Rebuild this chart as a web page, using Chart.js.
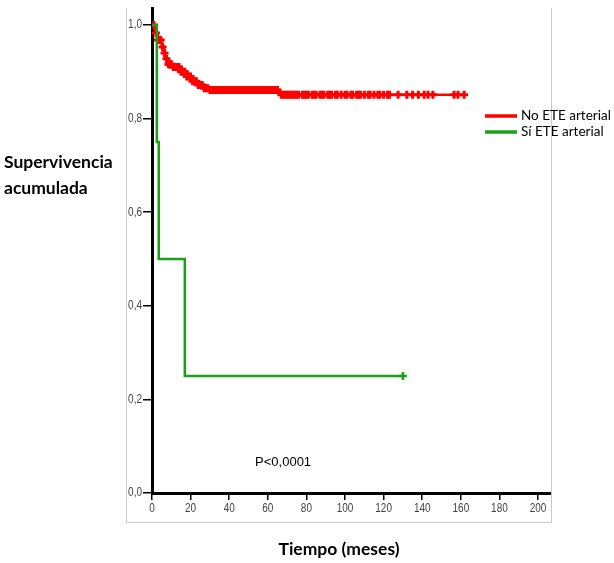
<!DOCTYPE html>
<html>
<head>
<meta charset="utf-8">
<script src="https://cdn.jsdelivr.net/npm/chart.js@4"></script>
<style>
  html, body { margin: 0; padding: 0; background: #fff; }
  #wrap { width: 614px; height: 563px; }
</style>
</head>
<body>
<div id="wrap"><canvas id="km" width="614" height="563"></canvas></div>
<script>
// Kaplan-Meier steps (time in months, cumulative survival)
const noEteTimes = [0, 1.5, 3, 5, 6, 7, 8, 11, 15, 18, 21, 24, 27, 30, 66, 161.7];
const noEteSurv = [1, 0.983, 0.968, 0.953, 0.94, 0.928, 0.916, 0.91, 0.9, 0.89, 0.88, 0.872, 0.865, 0.861, 0.851, 0.851];
const noEteCensored = [1, 2, 3, 4, 4.5, 5.5, 6.5, 7.5, 8.5, 9, 9.5, 10, 11, 12, 13, 14, 15, 16, 17, 18, 19, 20, 21,
  22, 23, 24, 25, 26, 27, 28, 29, 30, 31, 32, 33, 34, 35, 36,
  37, 38, 39, 40, 41, 42, 43, 44, 45, 46, 47, 48, 49, 50, 51, 52, 53, 54, 55, 56, 57, 58, 59, 60, 61, 62, 63, 64,
  65, 67, 68, 69, 70, 71, 72, 73, 74, 75, 76, 78, 79, 80, 81, 83, 84, 85, 87, 88, 89, 91, 92, 93, 95, 96, 98,
  100, 101, 103, 104, 106, 107, 108, 110, 112, 113, 115, 117, 118, 120, 122, 123, 127.5, 132, 135, 138, 141,
  143, 145.5, 156.5, 158.5, 161.7];

const siEteTimes = [0, 2.5, 3.5, 17, 130];
const siEteSurv = [1, 0.75, 0.5, 0.25, 0.25];
const siEteCensored = [130];

const xTicks = [0, 20, 40, 60, 80, 100, 120, 140, 160, 180, 200];
const yTicks = [0, 0.2, 0.4, 0.6, 0.8, 1.0];

const RED = '#ff0000';
const GREEN = '#1aa01a';

function stepPoints(times, surv) {
  return times.map((t, i) => ({ x: t, y: surv[i] }));
}
function survivalAt(times, surv, t) {
  let s = surv[0];
  for (let i = 0; i < times.length; i++) {
    if (times[i] <= t) s = surv[i];
  }
  return s;
}
function censorPoints(times, surv, cens) {
  return cens.map(t => ({ x: t, y: survivalAt(times, surv, t) }));
}

// narrow (Arial Narrow look) text: squeeze horizontally around the anchor
function narrowText(ctx, txt, x, y, align) {
  ctx.save();
  ctx.translate(x, y);
  ctx.scale(0.8, 1);
  ctx.textAlign = align;
  ctx.fillText(txt, 0, 0);
  ctx.restore();
}

const decor = {
  id: 'decor',
  afterDraw(chart) {
    const ctx = chart.ctx;
    const a = chart.chartArea;
    const xs = chart.scales.x, ys = chart.scales.y;
    ctx.save();
    // light frame
    ctx.strokeStyle = '#c8c8c8';
    ctx.lineWidth = 1;
    ctx.beginPath();
    ctx.moveTo(a.left - 25.5, a.top);
    ctx.lineTo(a.left - 25.5, a.bottom + 29.5);
    ctx.lineTo(a.right + 0.5, a.bottom + 29.5);
    ctx.lineTo(a.right + 0.5, a.top);
    ctx.stroke();

    // tick labels
    ctx.fillStyle = '#444';
    ctx.font = '12.5px "Liberation Sans"';
    ctx.textBaseline = 'middle';
    xs.ticks.forEach(t => narrowText(ctx, String(t.value), xs.getPixelForValue(t.value), a.bottom + 16, 'center'));
    ys.ticks.forEach(t => narrowText(ctx, t.value.toFixed(1).replace('.', ','), a.left - 10, ys.getPixelForValue(t.value), 'right'));

    // y title
    ctx.fillStyle = '#000';
    ctx.font = 'bold 17.5px Lato';
    ctx.textAlign = 'left';
    ctx.fillText('Supervivencia', 4, 162);
    ctx.fillText('acumulada', 4, 188);

    // x title
    ctx.textAlign = 'center';
    ctx.fillText('Tiempo (meses)', (a.left - 25 + a.right) / 2, 549);

    // p value
    ctx.font = '13px "Liberation Sans"';
    ctx.textAlign = 'left';
    ctx.fillText('P<0,0001', xs.getPixelForValue(53.4), ys.getPixelForValue(0.066));

    // legend
    const items = [['No ETE arterial', RED, 116], ['Sí ETE arterial', GREEN, 132]];
    ctx.font = '13.5px Lato';
    items.forEach(([label, col, y]) => {
      ctx.strokeStyle = col;
      ctx.lineWidth = 3.5;
      ctx.beginPath();
      ctx.moveTo(485, y);
      ctx.lineTo(517, y);
      ctx.stroke();
      ctx.fillStyle = '#000';
      ctx.fillText(label, 521, y);
    });
    ctx.restore();
  }
};

new Chart(document.getElementById('km'), {
  type: 'line',
  data: {
    datasets: [
      {
        data: stepPoints(siEteTimes, siEteSurv),
        borderColor: GREEN,
        borderWidth: 2.5,
        stepped: 'before',
        pointRadius: 0,
        fill: false
      },
      {
        data: censorPoints(siEteTimes, siEteSurv, siEteCensored),
        showLine: false,
        pointStyle: 'cross',
        pointRadius: 4,
        borderColor: GREEN,
        borderWidth: 2.5
      },
      {
        data: stepPoints(noEteTimes, noEteSurv),
        borderColor: RED,
        borderWidth: 2.5,
        stepped: 'before',
        pointRadius: 0,
        fill: false
      },
      {
        data: censorPoints(noEteTimes, noEteSurv, noEteCensored),
        showLine: false,
        pointStyle: 'cross',
        pointRadius: 4,
        borderColor: RED,
        borderWidth: 3
      }
    ]
  },
  options: {
    responsive: false,
    animation: false,
    layout: { padding: { top: 8, right: 63, left: 0, bottom: 0 } },
    plugins: { legend: { display: false }, tooltip: { enabled: false } },
    scales: {
      x: {
        type: 'linear',
        min: 0,
        max: 206.7,
        afterBuildTicks: s => { s.ticks = xTicks.map(v => ({ value: v })); },
        afterFit: s => { s.height = 70; },
        grid: { drawOnChartArea: false, drawTicks: true, tickLength: 7, color: '#000', lineWidth: 1.5 },
        border: { display: true, color: '#000', width: 3 },
        ticks: { display: false }
      },
      y: {
        min: 0,
        max: 1.0363,
        afterBuildTicks: s => { s.ticks = yTicks.map(v => ({ value: v })); },
        afterFit: s => { s.width = 152; },
        grid: { drawOnChartArea: false, drawTicks: true, tickLength: 9, color: '#000', lineWidth: 1.5 },
        border: { display: true, color: '#000', width: 3 },
        ticks: { display: false }
      }
    }
  },
  plugins: [decor]
});
</script>
</body>
</html>
